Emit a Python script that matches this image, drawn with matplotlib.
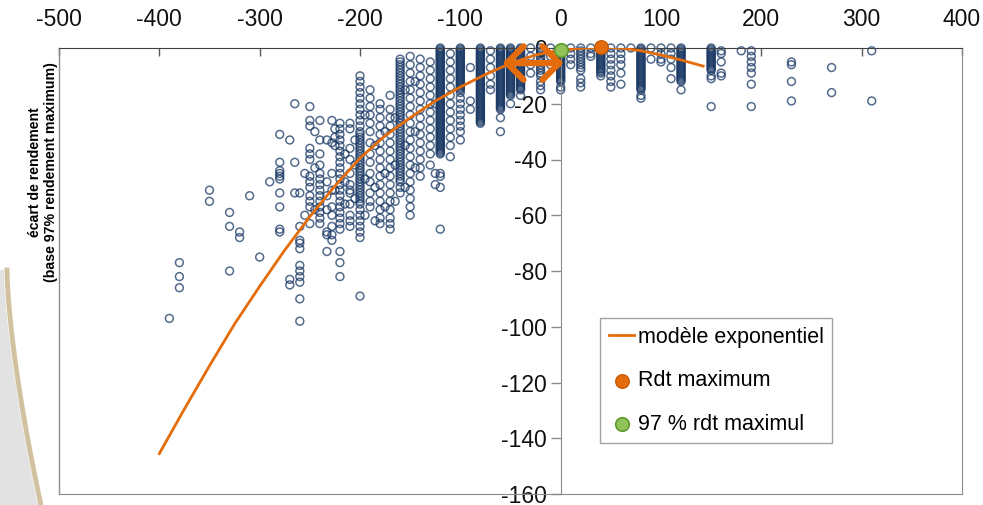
import matplotlib.pyplot as plt
import numpy as np
from matplotlib.patches import Polygon

plt.rcParams['font.family'] = ['Liberation Sans', 'DejaVu Sans']
plt.rcParams['axes.unicode_minus'] = False

# écart à la dose optimale (x) : une colonne d'observations par valeur
obs_x = [-390, -380, -350, -330, -320, -310, -300, -290, -280, -270, -265, -260,
         -255, -250, -245, -240, -233, -228, -225, -220, -215, -210, -205, -200,
         -195, -190, -185, -180, -175, -170, -165, -160, -155, -150, -145, -140,
         -130, -125, -120, -110, -100, -90, -80, -70, -60, -50, -40, -30, -20,
         -10, 0, 10, 20, 30, 40, 50, 60, 70, 80, 90, 100, 110, 120, 150, 160,
         180, 190, 230, 270, 310]

# écart de rendement (%) pour chaque colonne
obs_y = [
    [-97],
    [-77, -82, -86],
    [-51, -55],
    [-59, -64, -80],
    [-66, -68],
    [-53],
    [-75],
    [-48],
    [-31, -41, -44, -45, -46, -47, -52, -57, -65, -66],
    [-33, -83, -85],
    [-20, -41, -52],
    [-52, -64, -69, -70, -72, -78, -80, -82, -84, -90, -98],
    [-45, -60],
    [-21, -26, -28, -36, -38, -40, -46, -48, -50, -53, -55, -57, -63],
    [-30, -43, -58],
    [-26, -33, -38, -42, -45, -47, -49, -51, -53, -55, -57, -59, -61, -63],
    [-33, -48, -53, -58, -66, -67, -73],
    [-26, -34, -45, -51, -57, -60, -64, -67, -69],
    [-29, -32, -35, -51],
    [-27, -29, -31, -33, -35, -37, -39, -41, -43, -45, -47, -49, -51, -53, -55,
     -57, -59, -61, -63, -65, -73, -77, -82],
    [-38, -48, -56],
    [-27, -29, -36, -40, -45, -49, -51, -52, -56, -60, -62, -64],
    [-33, -42, -54],
    [-10, -12, -14, -16, -18, -20, -22, -24, -26, -28, -30, -31, -32, -33, -34,
     -35, -36, -37, -38, -39, -40, -41, -42, -43, -44, -45, -46, -47, -48, -49,
     -50, -51, -52, -53, -54, -55, -56, -58, -60, -62, -64, -66, -68, -89],
    [-24, -47, -60],
    [-15, -18, -21, -24, -27, -30, -34, -38, -41, -45, -48, -52, -55, -57],
    [-35, -50, -62],
    [-20, -22, -25, -28, -31, -34, -37, -40, -43, -46, -49, -52, -55, -58, -61, -63],
    [-30, -45, -57],
    [-17, -22, -25, -28, -31, -34, -37, -40, -43, -46, -49, -52, -55, -58, -61,
     -63, -65],
    [-25, -42, -55],
    [-4, -5, -6, -7, -8, -9, -10, -11, -12, -13, -14, -15, -16, -17, -18, -19,
     -20, -21, -22, -23, -24, -25, -26, -27, -28, -29, -30, -31, -32, -33, -34,
     -35, -36, -37, -38, -39, -40, -41, -42, -43, -44, -45, -46, -47, -48, -50, -52],
    [-15, -35, -50],
    [-3, -6, -9, -12, -15, -18, -21, -24, -27, -30, -33, -36, -39, -42, -45, -48,
     -51, -54, -57, -60],
    [-12, -30, -43],
    [-4, -7, -10, -13, -16, -19, -22, -25, -28, -31, -34, -37, -40, -43, -46],
    [-5, -8, -11, -14, -17, -20, -23, -26, -29, -32, -35, -38, -42],
    [-20, -45, -49],
    [0, -0.5, -1, -1.5, -2, -2.5, -3, -3.5, -4, -4.5, -5, -5.5, -6, -6.5, -7,
     -7.5, -8, -8.5, -9, -9.5, -10, -10.5, -11, -11.5, -12, -12.5, -13, -13.5,
     -14, -14.5, -15, -15.5, -16, -16.5, -17, -17.5, -18, -18.5, -19, -19.5, -20,
     -20.5, -21, -21.5, -22, -22.5, -23, -23.5, -24, -24.5, -25, -25.5, -26,
     -26.5, -27, -27.5, -28, -28.5, -29, -29.5, -30, -30.5, -31, -31.5, -32,
     -32.5, -33, -33.5, -34, -34.5, -35, -35.5, -36, -36.5, -37, -37.5, -38,
     -45, -46, -50, -65],
    [-2, -5, -8, -11, -14, -17, -20, -23, -26, -29, -32, -35, -39],
    [0, -0.5, -1, -1.5, -2, -2.5, -3, -3.5, -4, -4.5, -5, -5.5, -6, -6.5, -7,
     -7.5, -8, -8.5, -9, -9.5, -10, -10.5, -11, -11.5, -12, -12.5, -13, -13.5,
     -14, -14.5, -15, -16, -18, -20, -22, -24, -26, -28, -30, -33],
    [-7, -19, -22],
    [0, -0.5, -1, -1.5, -2, -2.5, -3, -3.5, -4, -4.5, -5, -5.5, -6, -6.5, -7,
     -7.5, -8, -8.5, -9, -9.5, -10, -10.5, -11, -11.5, -12, -12.5, -13, -13.5,
     -14, -14.5, -15, -15.5, -16, -16.5, -17, -17.5, -18, -18.5, -19, -19.5, -20,
     -20.5, -21, -21.5, -22, -22.5, -23, -23.5, -24, -24.5, -25, -25.5, -26,
     -26.5, -27],
    [-1, -4, -7, -10, -13, -15],
    [0, -0.5, -1, -1.5, -2, -2.5, -3, -3.5, -4, -4.5, -5, -5.5, -6, -6.5, -7,
     -7.5, -8, -8.5, -9, -9.5, -10, -10.5, -11, -11.5, -12, -12.5, -13, -13.5,
     -14, -14.5, -15, -15.5, -16, -16.5, -17, -17.5, -18, -18.5, -19, -19.5, -20,
     -20.5, -21, -21.5, -22, -25, -30],
    [0, -0.5, -1, -1.5, -2, -2.5, -3, -3.5, -4, -4.5, -5, -5.5, -6, -6.5, -7,
     -7.5, -8, -8.5, -9, -9.5, -10, -10.5, -11, -11.5, -12, -12.5, -13, -13.5,
     -14, -14.5, -15, -15.5, -16, -16.5, -17, -20],
    [0, -0.5, -1, -1.5, -2, -2.5, -3, -3.5, -4, -4.5, -5, -5.5, -6, -6.5, -7,
     -7.5, -8, -8.5, -9, -9.5, -10, -10.5, -11, -11.5, -12, -12.5, -13, -13.5,
     -14, -14.5, -15, -17],
    [0, -3, -6, -9],
    [0, -1, -2, -3, -4, -5, -6, -7, -8, -9, -10, -12, -13.5, -15],
    [0, -3, -6],
    [-1, -1.5, -2, -2.5, -3, -3.5, -4, -4.5, -5, -5.5, -6, -6.5, -7, -7.5, -8,
     -8.5, -9, -9.5, -10, -10.5, -11, -11.5, -12, -14, -15],
    [0, -2, -4, -6],
    [0, -1, -2, -3, -4, -5, -6, -7, -8, -11, -12.5, -14],
    [0, -2, -3],
    [0, -0.5, -1, -1.5, -2, -2.5, -3, -3.5, -4, -4.5, -5, -5.5, -6, -6.5, -7,
     -7.5, -8, -8.5, -9, -10],
    [0, -2, -4, -6, -8, -10, -12, -14],
    [0, -2, -4, -6, -9, -13],
    [0],
    [0, -0.5, -1, -1.5, -2, -2.5, -3, -3.5, -4, -4.5, -5, -5.5, -6, -6.5, -7,
     -7.5, -8, -8.5, -9, -9.5, -10, -10.5, -11, -11.5, -12, -12.5, -13, -13.5,
     -14, -14.5, -15, -17, -18],
    [0, -4],
    [0, -2, -4, -5],
    [0, -2, -4, -7, -11],
    [0, -0.5, -1, -1.5, -2, -2.5, -3, -3.5, -4, -4.5, -5, -5.5, -6, -6.5, -7,
     -7.5, -8, -8.5, -9, -9.5, -10, -10.5, -11, -11.5, -12, -15],
    [0, -0.5, -1, -1.5, -2, -2.5, -3, -3.5, -4, -4.5, -5, -5.5, -6, -6.5, -7,
     -7.5, -8, -10, -11, -21],
    [-1, -2, -5, -9, -10],
    [-1],
    [-1, -3, -5, -7, -9, -13, -21],
    [-5, -6, -12, -19],
    [-7, -16],
    [-1, -19],
]

# courbe du modèle exponentiel ajusté
model_x = [-400, -375, -350, -325, -300, -275, -250, -225, -200, -175, -150,
           -125, -100, -75, -50, -25, 0, 20, 40, 60, 80, 100, 120, 142]
model_y = [-145.5, -129.5, -114, -99, -85.5, -72.5, -60.5, -49.5, -39.5, -31.5,
           -25, -19, -14, -9.5, -5.5, -2.5, -0.8, -0.1, 0.3, 0, -1, -2.5, -4.3, -6.5]

rdt_max_x, rdt_max_y = 40, 0.3
rdt_97_x, rdt_97_y = 0, -0.8

orange = '#E46C0A'
green = '#92C35A'
navy = '#1B3A66'
frame = '#8C8C8C'

xs = np.concatenate([[x] * len(ys) for x, ys in zip(obs_x, obs_y)])
ys = np.concatenate(obs_y)

fig = plt.figure(figsize=(9.83, 5.05), dpi=100)

# bandeau décoratif sur le bord gauche
t = np.linspace(0, 1, 30)
cx = (4 + 34 * t ** 1.5) / 983
cy = 1 - (270 + 235 * t) / 505
fig.patches.append(Polygon(np.column_stack([np.r_[0, cx, 0], np.r_[cy[0], cy, 0]]),
                           closed=True, transform=fig.transFigure,
                           facecolor='#CFCFCF', edgecolor='none', alpha=0.6, zorder=0))
fig.lines.append(plt.Line2D(cx + 3 / 983, cy, transform=fig.transFigure,
                            color='#CDBB94', lw=3.5, alpha=0.9, zorder=1))

ax = fig.add_axes([59 / 983, 1 - 494 / 505, 903 / 983, 446 / 505])

ax.scatter(xs, ys, s=32, facecolors='none', edgecolors=navy, linewidths=1.1,
           alpha=0.75, zorder=2, clip_on=False)
ax.plot(model_x, model_y, color=orange, lw=2.0, zorder=3,
        label='modèle exponentiel')
ax.scatter([rdt_max_x], [rdt_max_y], s=95, color=orange, edgecolors='#C85A05',
           linewidths=1, zorder=5, clip_on=False, label='Rdt maximum')
ax.scatter([rdt_97_x], [rdt_97_y], s=95, color=green, edgecolors='#5E9A2E',
           linewidths=1.2, zorder=5, clip_on=False, label='97 % rdt maximul')

# flèche double entre 97 % et l'optimum
ax.annotate('', xy=(-58, -5.4), xytext=(3, -5.4),
            arrowprops=dict(arrowstyle='<->,head_length=0.6,head_width=0.6',
                            mutation_scale=20, color=orange, lw=4.5,
                            shrinkA=0, shrinkB=0),
            zorder=6)

ax.set_xlim(-500, 400)
ax.set_ylim(-160, 0)
ax.set_xticks(np.arange(-500, 401, 100))
ax.set_yticks(np.arange(-160, 1, 20))

ax.xaxis.tick_top()
ax.tick_params(axis='x', direction='in', length=6, width=1, color='#595959',
               labelsize=16.5, pad=12, labelcolor='#111111')
ax.tick_params(axis='y', direction='out', length=7, width=1, color=frame,
               labelsize=16.5, pad=3, labelcolor='#111111')

# -160 posé sur sa ligne de base pour ne pas sortir de la figure
ax.yaxis.get_major_ticks()[0].label1.set_va('baseline')

ax.spines['left'].set_position(('data', 0))
ax.spines['left'].set_color(frame)
ax.spines['top'].set_color('#404040')
ax.spines['right'].set_color(frame)
ax.spines['bottom'].set_color(frame)
ax.axvline(-500, color=frame, lw=1, clip_on=False)

fig.text(43 / 983, 1 - 172 / 505,
         'écart de rendement\n(base 97% rendement maximum)',
         rotation=90, ha='center', va='center', fontsize=10.2, fontweight='bold',
         linespacing=1.25)

leg = ax.legend(loc='upper left', bbox_to_anchor=(600 / 983, 1 - 318 / 505),
                bbox_transform=fig.transFigure, fontsize=15.5, frameon=True,
                fancybox=False, edgecolor=frame, handlelength=1.2,
                handletextpad=0.15, labelspacing=1.05, borderpad=0.4,
                borderaxespad=0)
leg.get_frame().set_linewidth(1)

fig.savefig('out.png', dpi=100)
